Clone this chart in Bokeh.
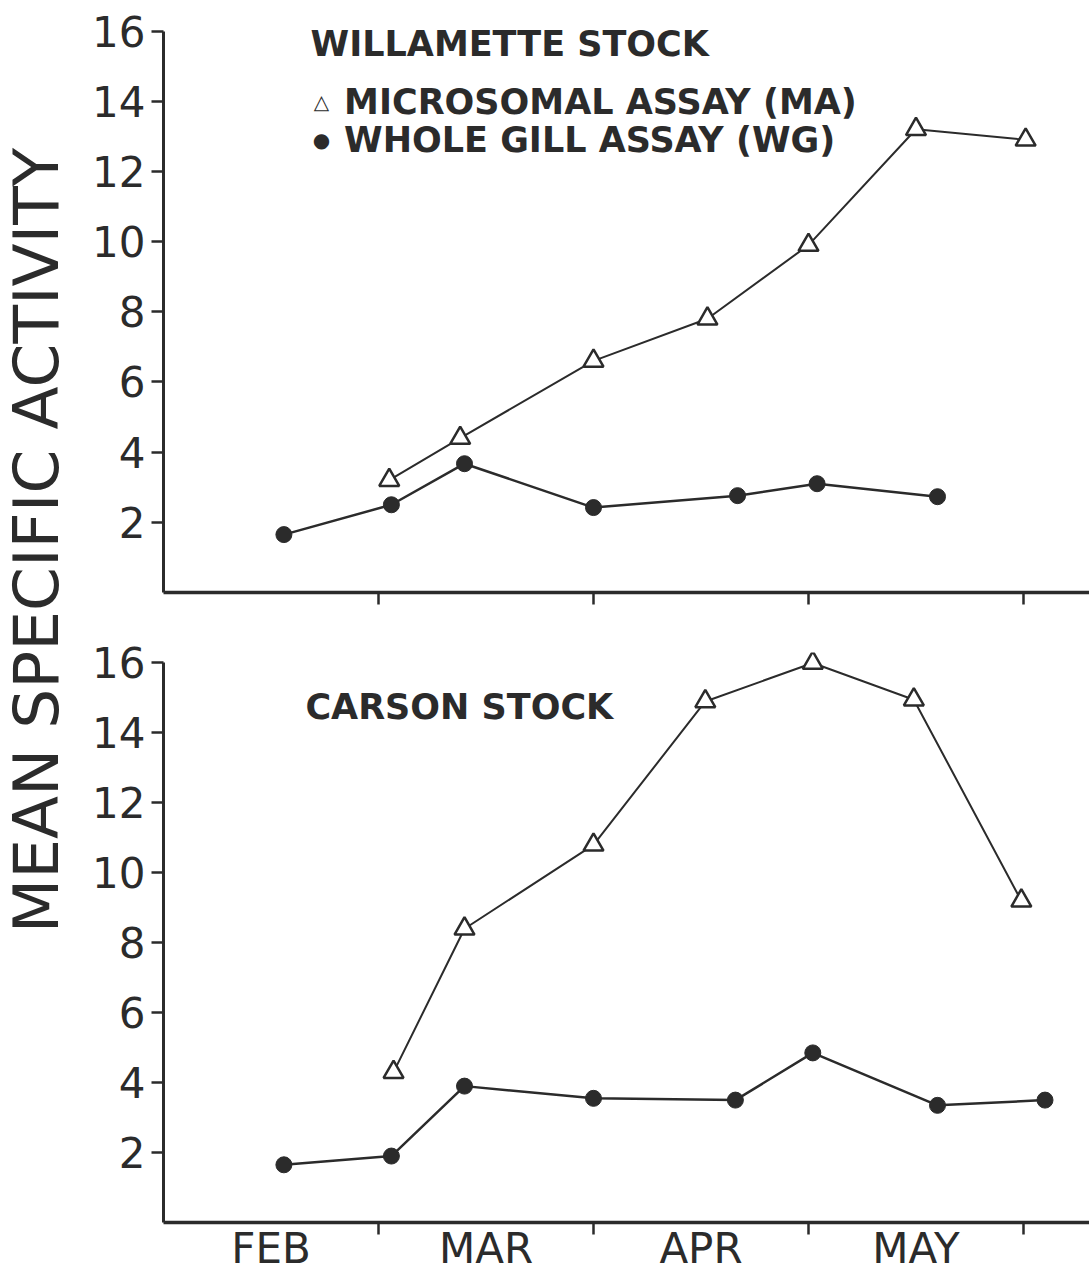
import math
from bokeh.plotting import figure
from bokeh.models import FixedTicker, Label, Range1d
from bokeh.layouts import row, column
from bokeh.embed import file_html
from bokeh.resources import INLINE

# ---- data (x in months since Feb 1; y = mean specific activity) ----
month_labels = ["FEB", "MAR", "APR", "MAY"]
month_centers = [0.5, 1.5, 2.5, 3.5]
month_bounds = [1, 2, 3, 4]
y_ticks = [2, 4, 6, 8, 10, 12, 14, 16]

wil_ma_x = [1.05, 1.38, 2.0, 2.53, 3.0, 3.5, 4.01]
wil_ma_y = [3.2, 4.4, 6.6, 7.8, 9.9, 13.2, 12.9]
wil_wg_x = [0.56, 1.06, 1.40, 2.0, 2.67, 3.04, 3.6]
wil_wg_y = [1.65, 2.5, 3.67, 2.42, 2.76, 3.1, 2.73]

car_ma_x = [1.07, 1.40, 2.0, 2.52, 3.02, 3.49, 3.99]
car_ma_y = [4.3, 8.4, 10.8, 14.9, 16.0, 14.95, 9.2]
car_wg_x = [0.56, 1.06, 1.40, 2.0, 2.66, 3.02, 3.6, 4.1]
car_wg_y = [1.65, 1.9, 3.9, 3.55, 3.5, 4.85, 3.35, 3.5]

INK = "#2b2b2b"
FONT = "DejaVu Sans"

LABEL_W = 82
FIG_W = 1089 - LABEL_W
F = 572
TOP_H = 20 + F + 34
BOT_H = 26 + F + 51


def make_panel(height, top_border, bottom_border, show_months):
    p = figure(width=FIG_W, height=height, output_backend="svg",
               toolbar_location=None,
               x_range=Range1d(0, 4.307), y_range=Range1d(0, 16.3),
               min_border_left=163 - LABEL_W, min_border_right=0,
               min_border_top=top_border, min_border_bottom=bottom_border)
    p.outline_line_color = None
    p.grid.visible = False
    p.background_fill_color = "white"
    p.border_fill_color = "white"

    ya = p.yaxis[0]
    ya.ticker = FixedTicker(ticks=y_ticks)
    ya.bounds = (0, 16)
    ya.axis_line_width = 3
    ya.axis_line_color = INK
    ya.major_tick_out = 12
    ya.major_tick_in = 0
    ya.major_tick_line_width = 2.5
    ya.major_tick_line_color = INK
    ya.minor_tick_line_color = None
    ya.major_label_text_font = FONT
    ya.major_label_text_font_size = "42px"
    ya.major_label_text_color = INK
    ya.major_label_standoff = 6

    xa = p.xaxis[0]
    xa.ticker = FixedTicker(ticks=month_centers, minor_ticks=month_bounds)
    xa.axis_line_width = 3.5
    xa.axis_line_color = INK
    xa.major_tick_out = 0
    xa.major_tick_in = 0
    xa.major_tick_line_color = None
    xa.minor_tick_out = 12
    xa.minor_tick_in = 0
    xa.minor_tick_line_width = 2.5
    xa.minor_tick_line_color = INK
    if show_months:
        xa.major_label_overrides = {c: m for c, m in zip(month_centers, month_labels)}
        xa.major_label_text_font = FONT
        xa.major_label_text_font_size = "42px"
        xa.major_label_text_color = INK
        xa.major_label_standoff = -11
    else:
        xa.major_label_overrides = {c: "" for c in month_centers}
        xa.major_label_text_font_size = "0px"
        xa.major_label_standoff = 0
    return p


def draw_series(p, mx, my, wx, wy):
    p.line(mx, my, line_color=INK, line_width=2)
    p.scatter(mx, my, marker="triangle", size=20, fill_color="white",
              line_color=INK, line_width=2.5)
    p.line(wx, wy, line_color=INK, line_width=2.5)
    p.scatter(wx, wy, marker="circle", size=16, fill_color=INK,
              line_color=INK, line_width=1)


top = make_panel(TOP_H, 20, 34, False)
draw_series(top, wil_ma_x, wil_ma_y, wil_wg_x, wil_wg_y)

bot = make_panel(BOT_H, 26, 51, True)
draw_series(bot, car_ma_x, car_ma_y, car_wg_x, car_wg_y)

title_style = dict(text_font=FONT, text_font_style="bold", text_color=INK,
                   text_font_size="35px", text_baseline="middle", text_align="left")
sym_style = dict(text_font=FONT, text_color=INK, text_font_size="20px",
                 text_baseline="middle", text_align="center")

top.add_layout(Label(x=0.684, y=15.62, text="WILLAMETTE  STOCK", **title_style))
top.add_layout(Label(x=0.735, y=13.98, text="\u25b3", **sym_style))
top.add_layout(Label(x=0.735, y=12.9, text="\u25cf", **sym_style))
top.add_layout(Label(x=0.84, y=13.98, text="MICROSOMAL ASSAY (MA)", **title_style))
top.add_layout(Label(x=0.84, y=12.9, text="WHOLE GILL ASSAY (WG)", **title_style))

bot.add_layout(Label(x=0.66, y=14.75, text="CARSON STOCK", **title_style))

total_h = TOP_H + BOT_H
lab = figure(width=LABEL_W, height=total_h, output_backend="svg",
             toolbar_location=None, x_range=Range1d(0, 1), y_range=Range1d(0, 1),
             min_border=0)
lab.outline_line_color = None
lab.axis.visible = False
lab.grid.visible = False
lab.border_fill_color = "white"
lab.add_layout(Label(x=36, y=total_h - 540, x_units="screen", y_units="screen",
                     text="MEAN SPECIFIC ACTIVITY", angle=math.pi / 2,
                     text_font=FONT, text_font_size="63px", text_color=INK,
                     text_align="center", text_baseline="middle"))

layout = row(lab, column(top, bot))
open("out.html", "w").write(file_html(layout, INLINE))
